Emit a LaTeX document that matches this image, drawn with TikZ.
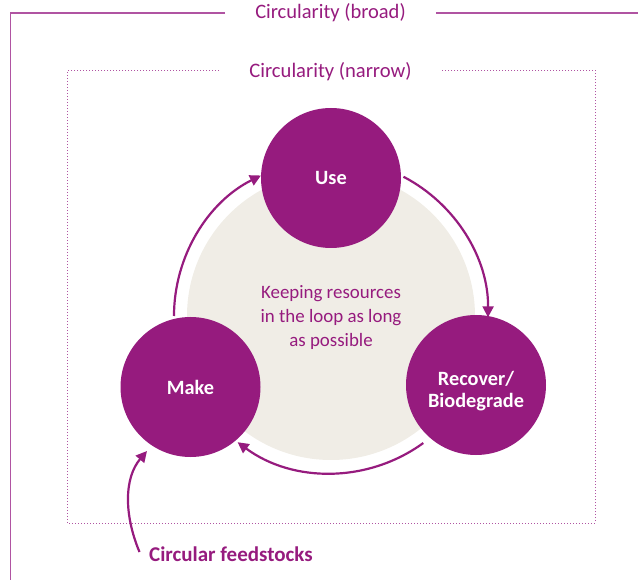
\documentclass[tikz,border=0pt]{standalone}
\usepackage{fontspec}
\setmainfont{Carlito}
\usetikzlibrary{arrows.meta}
\definecolor{plum}{RGB}{150,27,126}
\definecolor{frameplum}{RGB}{176,84,162}
\definecolor{beige}{RGB}{240,237,230}
\tikzset{
  stagetext/.style={text=white, font=\fontsize{20.3}{21.5}\selectfont\bfseries, align=center},
  stage/.style={circle, fill=plum, minimum size=140pt, inner sep=0pt, stagetext},
  flow/.style={draw=plum, line width=2.2pt, -{Triangle[length=11pt,width=11pt]}},
  framelabel/.style={text=plum, inner xsep=30pt, inner ysep=0pt},
}
\begin{document}
\begin{tikzpicture}[x=1pt,y=1pt]
\useasboundingbox (0,0) rectangle (638,-580);
% broad frame
\node[framelabel, font=\fontsize{20.5}{22}\selectfont] (broad) at (330.5,-13) {Circularity (broad)};
\coordinate (bcorner) at (10.5,-13);
\coordinate (bbottom) at (10.5,-582);
\coordinate (bright) at (640,-13);
\draw[frameplum, line width=1.4pt] (broad.west) -- (bcorner) -- (bbottom);
\draw[frameplum, line width=1.4pt] (broad.east) -- (bright);
% narrow frame
\node[framelabel, font=\fontsize{20.6}{22}\selectfont] (narrow) at (330.5,-72) {Circularity (narrow)};
\coordinate (ntl) at (67.5,-70.5);
\coordinate (ntr) at (595.5,-70.5);
\coordinate (nbl) at (67.5,-523);
\coordinate (nbr) at (595.5,-523);
\draw[frameplum, line width=1pt, dash pattern=on 1pt off 2pt] (narrow.west |- ntl) -- (ntl) -- (nbl) -- (nbr) -- (ntr) -- (narrow.east |- ntr);
% beige core
\coordinate (ctr) at (331,-316);
\fill[beige] (ctr) circle[radius=144];
\node[text=plum, align=center, font=\fontsize{18.9}{24}\selectfont] (core) at (331,-318) {Keeping resources\\in the loop as long\\as possible};
% stages
\node[stage] (use) at (331,-178) {Use};
\node[stage] (make) at (190.5,-387) {Make};
\node[stage, label={[stagetext, yshift=-6pt]center:Recover/\\Biodegrade}] (recover) at (476,-385) {};
% cycle arrows
\draw[flow] ([shift={(180:157)}]ctr) arc[start angle=180, end angle=116.5, radius=157];
\draw[flow] ([shift={(62.5:157)}]ctr) arc[start angle=62.5, end angle=-0.5, radius=157];
\draw[flow] ([shift={(-54:157)}]ctr) arc[start angle=-54, end angle=-126.5, radius=157];
% feedstock
\node[text=plum, anchor=west, font=\fontsize{21}{22}\selectfont\bfseries, inner sep=0pt] (feed) at (149,-554) {Circular feedstocks};
\coordinate (fstart) at (139.5,-552);
\coordinate (fend) at (147,-451);
\draw[flow] (fstart) .. controls (124,-515) and (124,-478) .. (fend);
\end{tikzpicture}
\end{document}
